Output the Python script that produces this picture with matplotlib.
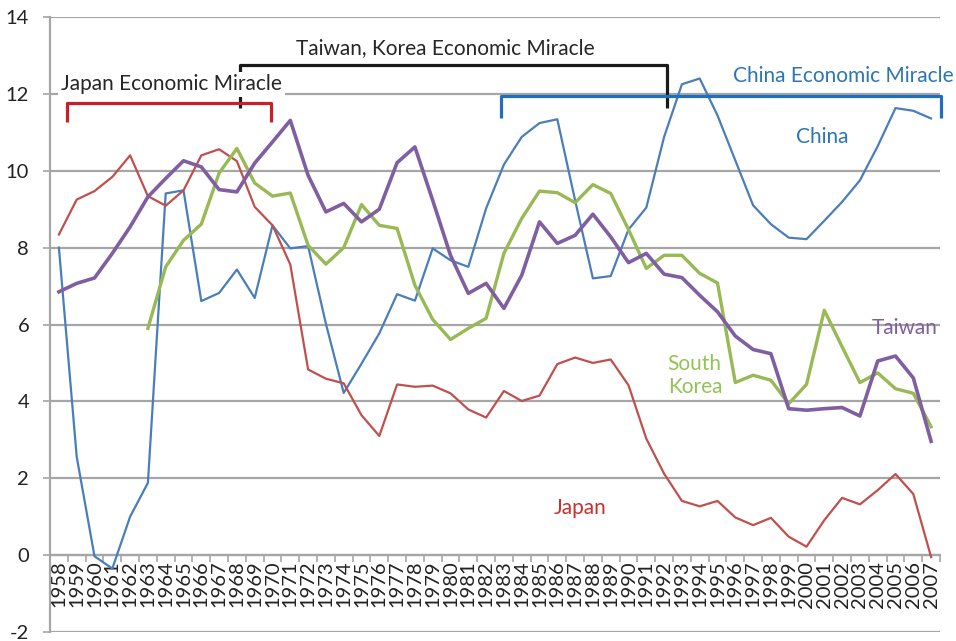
import matplotlib
matplotlib.use("Agg")
import matplotlib.pyplot as plt
import numpy as np

plt.rcParams['font.family'] = ['Lato', 'DejaVu Sans']

years = list(range(1958, 2008))

china = [8.0, 2.56, -0.03, -0.35, 1.0, 1.88, 9.41, 9.49, 6.61, 6.82,
         7.43, 6.69, 8.58, 7.98, 8.04, 6.02, 4.22, 4.98, 5.77, 6.79,
         6.62, 7.98, 7.67, 7.50, 9.02, 10.16, 10.88, 11.24, 11.34, 9.23,
         7.20, 7.26, 8.47, 9.04, 10.88, 12.25, 12.40, 11.44, 10.27, 9.10,
         8.61, 8.26, 8.22, 8.70, 9.19, 9.75, 10.64, 11.63, 11.56, 11.36]

japan = [8.34, 9.25, 9.47, 9.84, 10.40, 9.34, 9.09, 9.49, 10.40, 10.56,
         10.25, 9.06, 8.58, 7.56, 4.83, 4.59, 4.47, 3.64, 3.10, 4.44,
         4.38, 4.41, 4.21, 3.79, 3.58, 4.27, 4.01, 4.15, 4.97, 5.14,
         5.00, 5.09, 4.42, 3.03, 2.12, 1.41, 1.27, 1.41, 0.98, 0.78,
         0.97, 0.48, 0.22, 0.91, 1.49, 1.32, 1.69, 2.11, 1.59, -0.05]

taiwan = [6.85, 7.07, 7.21, 7.85, 8.54, 9.32, 9.80, 10.26, 10.10, 9.51,
          9.45, 10.20, 10.75, 11.31, 9.88, 8.93, 9.15, 8.67, 9.00, 10.21,
          10.62, 9.23, 7.80, 6.81, 7.07, 6.42, 7.28, 8.67, 8.11, 8.32,
          8.87, 8.28, 7.61, 7.85, 7.31, 7.22, 6.76, 6.33, 5.70, 5.35,
          5.24, 3.81, 3.77, 3.81, 3.84, 3.62, 5.05, 5.18, 4.61, 2.96]

korea = [None, None, None, None, None, 5.90, 7.50, 8.19, 8.61, 9.94,
         10.58, 9.68, 9.34, 9.42, 8.06, 7.57, 8.00, 9.12, 8.58, 8.50,
         7.02, 6.13, 5.61, 5.90, 6.16, 7.85, 8.76, 9.47, 9.43, 9.17,
         9.64, 9.41, 8.47, 7.46, 7.80, 7.80, 7.33, 7.08, 4.49, 4.68,
         4.55, 3.94, 4.44, 6.37, 5.42, 4.49, 4.74, 4.33, 4.21, 3.34]

yticks = [-2, 0, 2, 4, 6, 8, 10, 12, 14]

C_CHINA = '#4A7EBB'
C_JAPAN = '#C0504D'
C_TAIWAN = '#7F5FA1'
C_KOREA = '#98B954'
GRID = '#A6A6A6'
FS = 15

fig = plt.figure(figsize=(9.56, 6.41), dpi=100)
ax = fig.add_axes([50/956, 9/641, 890/956, 615/641])

x = np.arange(len(years))
kor = np.array([np.nan if v is None else v for v in korea], dtype=float)

ax.plot(x, china, color=C_CHINA, lw=1.6, zorder=3)
ax.plot(x, japan, color=C_JAPAN, lw=1.6, zorder=3)
ax.plot(x, kor, color=C_KOREA, lw=2.4, zorder=4)
ax.plot(x, taiwan, color=C_TAIWAN, lw=2.6, zorder=5)

ax.set_xlim(-0.5, len(years) - 0.5)
ax.set_ylim(-2, 14)
ax.set_yticks(yticks)
ax.set_yticklabels([str(v) for v in yticks], fontsize=14.5, color='#222222')
ax.yaxis.grid(True, color=GRID, lw=1.6, zorder=0)
ax.set_axisbelow(True)

for s in ['top', 'right']:
    ax.spines[s].set_visible(False)
ax.spines['left'].set_color(GRID)
ax.spines['left'].set_linewidth(1.6)
ax.spines['bottom'].set_position(('data', 0))
ax.spines['bottom'].set_color(GRID)
ax.spines['bottom'].set_linewidth(1.6)
ax.tick_params(axis='y', length=5, color=GRID, width=1.2, pad=10)

ax.set_xticks(x)
ax.set_xticklabels([str(y) for y in years], rotation=90, fontsize=14.5,
                   color='#222222')
ax.tick_params(axis='x', which='major', length=0, pad=4)
ax.set_xticks(np.arange(-0.5, len(years), 1.0), minor=True)
ax.tick_params(axis='x', which='minor', length=5, color=GRID, width=1.2)

# Series labels
ax.text(42.9, 10.87, 'China', color='#2E75B6', fontsize=FS, ha='center', va='center')
ax.text(47.5, 5.9, 'Taiwan', color=C_TAIWAN, fontsize=FS, ha='center', va='center')
ax.text(34.2, 4.67, 'South\nKorea', color='#92C354', fontsize=FS, ha='left',
        va='center', linespacing=1.15)
ax.text(29.3, 1.22, 'Japan', color='#C9302C', fontsize=FS, ha='center', va='center')

# Brackets (annotation shapes)
def bracket(x0, x1, ytop, ybot, color, z):
    ax.plot([x0, x0, x1, x1], [ybot, ytop, ytop, ybot], color=color, lw=2.3,
            solid_joinstyle='round', solid_capstyle='butt', zorder=z,
            clip_on=False)

bracket(10.17, 34.15, 12.74, 11.63, '#1A1A1A', 6)
bracket(0.45, 11.9, 11.76, 11.26, '#C8202A', 8)
bracket(24.83, 49.55, 11.94, 11.38, '#1F6FBF', 6)

ax.text(0.12, 12.25, 'Japan Economic Miracle', fontsize=FS, color='#262626',
        ha='left', va='center', zorder=7,
        bbox=dict(facecolor='white', edgecolor='none', pad=2))
ax.text(21.7, 13.19, 'Taiwan, Korea Economic Miracle', fontsize=FS,
        color='#262626', ha='center', va='center', zorder=7)
ax.text(44.05, 12.46, 'China Economic Miracle', fontsize=FS, color='#2E75B6',
        ha='center', va='center', zorder=7, clip_on=False)

fig.savefig('out.png', dpi=100)
